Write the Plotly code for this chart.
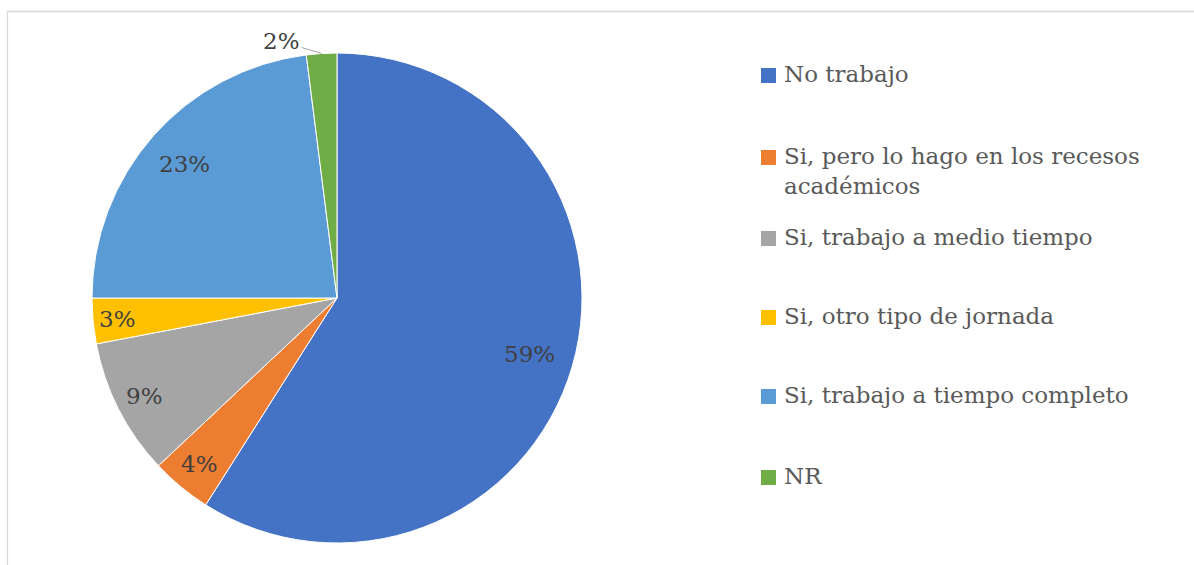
import math
import plotly.graph_objects as go

# ---- data ----
categories = [
    "No trabajo",
    "Si, pero lo hago en los recesos académicos",
    "Si, trabajo a medio tiempo",
    "Si, otro tipo de jornada",
    "Si, trabajo a tiempo completo",
    "NR",
]
values = [59, 4, 9, 3, 23, 2]
pct_labels = ["59%", "4%", "9%", "3%", "23%", "2%"]

# ---- style ----
colors = ["#4472C4", "#ED7D31", "#A5A5A5", "#FFC000", "#5B9BD5", "#70AD47"]
legend_text = [
    "No trabajo",
    "Si, pero lo hago en los recesos<br>académicos",
    "Si, trabajo a medio tiempo",
    "Si, otro tipo de jornada",
    "Si, trabajo a tiempo completo",
    "NR",
]
legend_y_px = [75, 157, 238, 317, 396, 477]   # first-line centres (px from top)
label_rfrac = [0.82, 0.88, 0.88, 0.90, 0.83]  # inside label radial position
FONT = "DejaVu Serif"
FS = 23
W, H = 1194, 565
CX, CY, R = 337, 298, 245  # pie centre / radius in px

fig = go.Figure()
fig.add_trace(go.Pie(
    labels=categories,
    values=values,
    sort=False,
    direction="clockwise",
    rotation=0,
    marker=dict(colors=colors, line=dict(color="white", width=1)),
    textinfo="none",
    hoverinfo="label+percent",
    showlegend=False,
    domain=dict(x=[(CX - R) / W, (CX + R) / W],
                y=[(H - CY - R) / H, (H - CY + R) / H]),
))

annotations = []
total = sum(values)
cum = 0
for i, v in enumerate(values):
    mid = (cum + v / 2) / total * 2 * math.pi
    cum += v
    if i < len(label_rfrac):
        rr = label_rfrac[i] * R
        x = (CX + rr * math.sin(mid)) / W
        y = (H - (CY - rr * math.cos(mid))) / H
        annotations.append(dict(
            x=x, y=y, xref="paper", yref="paper", text=pct_labels[i],
            showarrow=False, font=dict(family=FONT, size=FS, color="#404040"),
            xanchor="center", yanchor="middle"))
    else:
        ex = (CX + R * math.sin(mid)) / W
        ey = (H - (CY - R * math.cos(mid))) / H
        annotations.append(dict(
            x=ex, y=ey, xref="paper", yref="paper", text=pct_labels[i],
            showarrow=True, arrowhead=0, arrowwidth=1, arrowcolor="#A6A6A6",
            ax=-40, ay=-12, standoff=0,
            font=dict(family=FONT, size=FS, color="#404040")))

shapes = []
for i, name in enumerate(legend_text):
    yc = legend_y_px[i]
    shapes.append(dict(
        type="rect", xref="paper", yref="paper",
        x0=761 / W, x1=776 / W, y0=(H - yc - 8) / H, y1=(H - yc + 7) / H,
        fillcolor=colors[i], line=dict(width=0)))
    annotations.append(dict(
        x=782 / W, y=(H - yc + 16) / H, xref="paper", yref="paper",
        text=name, showarrow=False, xanchor="left", yanchor="top", align="left",
        font=dict(family=FONT, size=FS, color="#595959")))

# chart border
shapes.append(dict(type="rect", xref="paper", yref="paper",
                   x0=7.5 / W, x1=1.02, y0=-0.05, y1=(H - 11.5) / H,
                   line=dict(color="#D9D9D9", width=1.3), fillcolor="rgba(0,0,0,0)"))

fig.update_layout(
    width=W, height=H,
    margin=dict(l=0, r=0, t=0, b=0),
    paper_bgcolor="white",
    plot_bgcolor="white",
    font=dict(family=FONT),
    annotations=annotations,
    shapes=shapes,
)

fig.write_html("out.html", config={"displayModeBar": False},
               post_script="document.body.style.margin='0';document.body.style.overflow='hidden';")
